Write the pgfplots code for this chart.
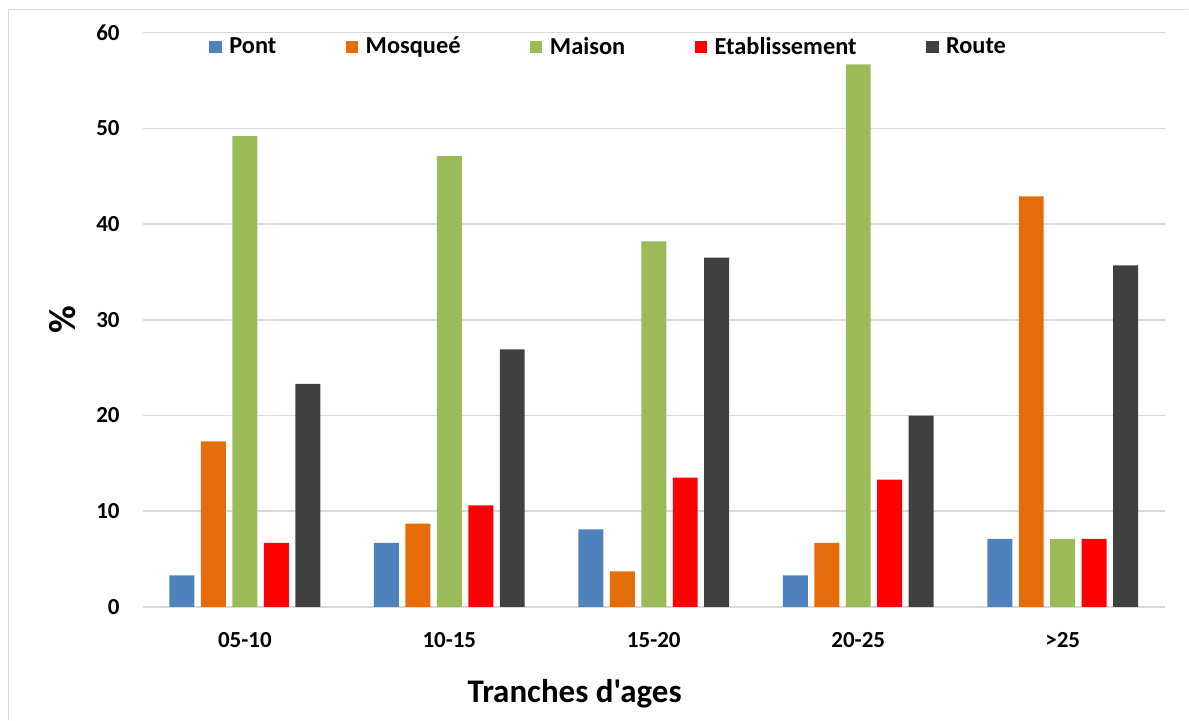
\documentclass[border=0pt]{standalone}
\usepackage{fontspec}
\setmainfont{Carlito}[Ligatures=TeXOff]
\usepackage{pgfplots}
\pgfplotsset{compat=1.18}
\definecolor{cpont}{HTML}{4F81BD}
\definecolor{cmosq}{HTML}{E46C0A}
\definecolor{cmais}{HTML}{9BBB59}
\definecolor{cetab}{HTML}{FF0000}
\definecolor{croute}{HTML}{404040}
\definecolor{gridgray}{HTML}{D9D9D9}
\begin{document}
\begin{tikzpicture}
\begin{axis}[
    scale only axis,
    width=511.65pt, height=287.35pt,
    xmin=-0.5, xmax=4.5,
    ymin=0, ymax=60,
    ytick={0,10,...,60},
    xtick={0,1,2,3,4},
    xticklabels={05-10,10-15,15-20,20-25,>25},
    ybar=3.25pt, bar width=12.5pt,
    axis line style={draw=none},
    major tick length=0pt,
    ymajorgrids,
    grid style={color=gridgray, line width=0.75pt},
    clip=false,
    /pgf/number format/assume math mode=true,
    ticklabel style={font=\fontsize{11.5}{13}\selectfont\bfseries, inner sep=0pt},
    yticklabel style={anchor=east, xshift=-11.3pt},
    xticklabel style={anchor=north, yshift=-12.6pt},
    xlabel={Tranches d'ages},
    xlabel style={at={(axis description cs:0.4226,-0.166)}, anchor=base,
        font=\fontsize{16.5}{19}\selectfont\bfseries},
    ylabel={\%},
    ylabel style={at={(axis description cs:-0.078,0.5)}, anchor=center,
        font=\fontsize{19}{22}\selectfont\bfseries},
    legend columns=5,
    legend image code/.code={\fill[#1,draw=none] (0pt,-3.1pt) rectangle (6.25pt,3.1pt);},
    legend style={at={(rel axis cs:0.059,0.975)}, anchor=west, draw=none, fill=none,
        font=\fontsize{12.2}{14}\selectfont\bfseries,
        /tikz/every even column/.append style={column sep=33pt},
        /tikz/every odd column/.append style={column sep=2pt},
        nodes={inner sep=1.75pt}},
]
% cadre
\path (rel axis cs:-0.1395,-0.1974) rectangle (rel axis cs:1.0228,1.0570);
\draw[color=gridgray, line width=0.75pt] (rel axis cs:-0.1312,-0.1974)
    -- (rel axis cs:-0.1312,1.0408) -- (rel axis cs:1.0228,1.0408);
% Pont
\addplot[fill=cpont, draw=none] coordinates {(0,3.3) (1,6.7) (2,8.1) (3,3.3) (4,7.1)};
% Mosquee
\addplot[fill=cmosq, draw=none] coordinates {(0,17.3) (1,8.7) (2,3.7) (3,6.7) (4,42.9)};
% Maison
\addplot[fill=cmais, draw=none] coordinates {(0,49.2) (1,47.1) (2,38.2) (3,56.7) (4,7.1)};
% Etablissement
\addplot[fill=cetab, draw=none] coordinates {(0,6.7) (1,10.6) (2,13.5) (3,13.3) (4,7.1)};
% Route
\addplot[fill=croute, draw=none] coordinates {(0,23.3) (1,26.9) (2,36.5) (3,20.0) (4,35.7)};
\legend{Pont,Mosqueé,Maison,Etablissement,Route}
\end{axis}
\end{tikzpicture}
\end{document}
